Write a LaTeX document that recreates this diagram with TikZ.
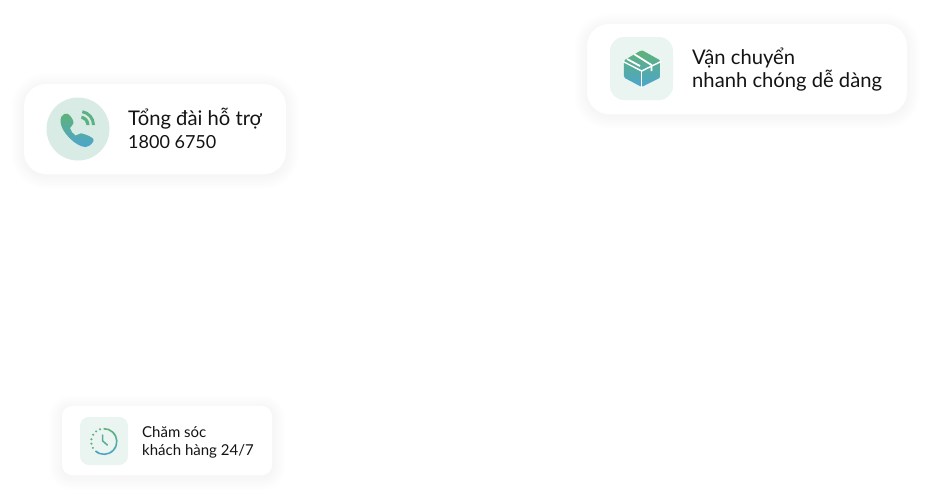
\documentclass[tikz,border=0pt]{standalone}
\usepackage{fontspec}
\setmainfont{Lato}
\definecolor{gradtop}{HTML}{5FB276}
\definecolor{gradbot}{HTML}{4CA5CE}
\definecolor{softcircle}{HTML}{D8EBE4}
\definecolor{softsquare}{HTML}{EAF5F1}
\tikzset{
  card/.style={fill=white, rounded corners=#1, inner sep=0pt},
  cardtext/.style={anchor=west, align=left, inner sep=0pt, text=black!92},
  bigtext/.style={cardtext, font=\fontsize{20.2}{23}\selectfont},
  smalltext/.style={cardtext, font=\fontsize{15}{18}\selectfont},
  icongrad/.style={top color=gradtop, bottom color=gradbot, draw=none},
  softsq/.style={fill=softsquare, rounded corners=#1, inner sep=0pt}
}
% soft halo round a card: x1, y1, x2, y2, radius
\newcommand{\cardhalo}[5]{%
  \foreach \w in {2,5,...,26}
    \draw[black, opacity=0.0022, line width=\w pt, rounded corners=#5] (#1,#2+2) rectangle (#3,#4+2);
}
\begin{document}
\begin{tikzpicture}[x=1pt,y=-1pt]
\useasboundingbox (0,0) rectangle (931,493);
\fill[white] (0,0) rectangle (931,493);

% Phone card
\cardhalo{24}{84}{286}{174}{22}
\node[card=22pt, minimum width=262pt, minimum height=90pt] (phonecard) at (155,129) {};
\node[circle, fill=softcircle, minimum size=63pt, inner sep=0pt] (phonedisc) at (78,129) {};
\node[bigtext] (phonetext) at (128,128) {Tổng đài hỗ trợ\\{\fontsize{18}{23}\selectfont 1800 6750}};
\shade[icongrad] (61.5,116.5) .. controls (63,114) and (66,112.5) .. (68,114)
  .. controls (71,116) and (73.5,120) .. (73.5,123) .. controls (73.5,125.5) and (70.5,126) .. (70,128)
  .. controls (70.5,131) and (73,134) .. (75.5,135.5) .. controls (77.5,136) and (78.5,133) .. (81,133.3)
  .. controls (85,134) and (91,136.5) .. (93.5,139) .. controls (94.5,142) and (90,146.5) .. (85.5,147)
  .. controls (76,147) and (60,131) .. (60.5,121) .. controls (60.5,119) and (61,117.5) .. (61.5,116.5) -- cycle;
\coordinate (waves) at (80,125);
\fill[gradtop!85!gradbot] ([shift={(-80:6.5)}]waves) arc (-80:0:6.5) -- ([shift={(0:9.5)}]waves) arc (0:-80:9.5) -- cycle;
\fill[gradtop!85!gradbot] ([shift={(-80:12)}]waves) arc (-80:0:12) -- ([shift={(0:15)}]waves) arc (0:-80:15) -- cycle;

% Parcel card
\cardhalo{587}{24}{907}{114}{22}
\node[card=22pt, minimum width=320pt, minimum height=90pt] (parcelcard) at (747,69) {};
\node[softsq=14pt, minimum size=63pt] (parcelbg) at (641.5,68.5) {};
\node[bigtext] (parceltext) at (692,70) {Vận chuyển\\nhanh chóng dễ dàng};
\shade[icongrad, rounded corners=1.5pt] (641.7,50) -- (660.5,60.5) -- (660.5,77.5) -- (641.7,87) -- (623.8,77.5) -- (623.8,60.5) -- cycle;
\draw[white, line width=1.4pt] (623,61.5) -- (641.7,71) -- (661,61.5);
\draw[white, line width=1.4pt] (641.7,71) -- (641.7,88);
\draw[white, line width=1.8pt] (634,54) -- (651.5,65) -- (651.5,71);
\draw[white, line width=1.8pt] (627,59) -- (640,66);

% Clock card
\cardhalo{62}{406}{272}{475}{10}
\node[card=10pt, minimum width=210pt, minimum height=69pt] (clockcard) at (167,440.5) {};
\node[softsq=9pt, minimum size=48pt] (clockbg) at (104,441) {};
\node[smalltext] (clocktext) at (142,442) {Chăm sóc\\khách hàng 24/7};
\coordinate (clockc) at (104,441.5);
\shade[icongrad] ([shift={(-92:12)}]clockc) arc (-92:132:12) -- ([shift={(132:13.6)}]clockc) arc (132:-92:13.6) -- cycle;
\foreach \a in {150,170,190,212,232,252}
  \fill[gradtop!80!gradbot] ([shift={(\a:12.8)}]clockc) circle (1.15);
\draw[gradtop!60!gradbot, line width=1.5pt, line cap=round, line join=round] (102.7,435) -- (102.7,441) -- (107.3,445);
\end{tikzpicture}
\end{document}
